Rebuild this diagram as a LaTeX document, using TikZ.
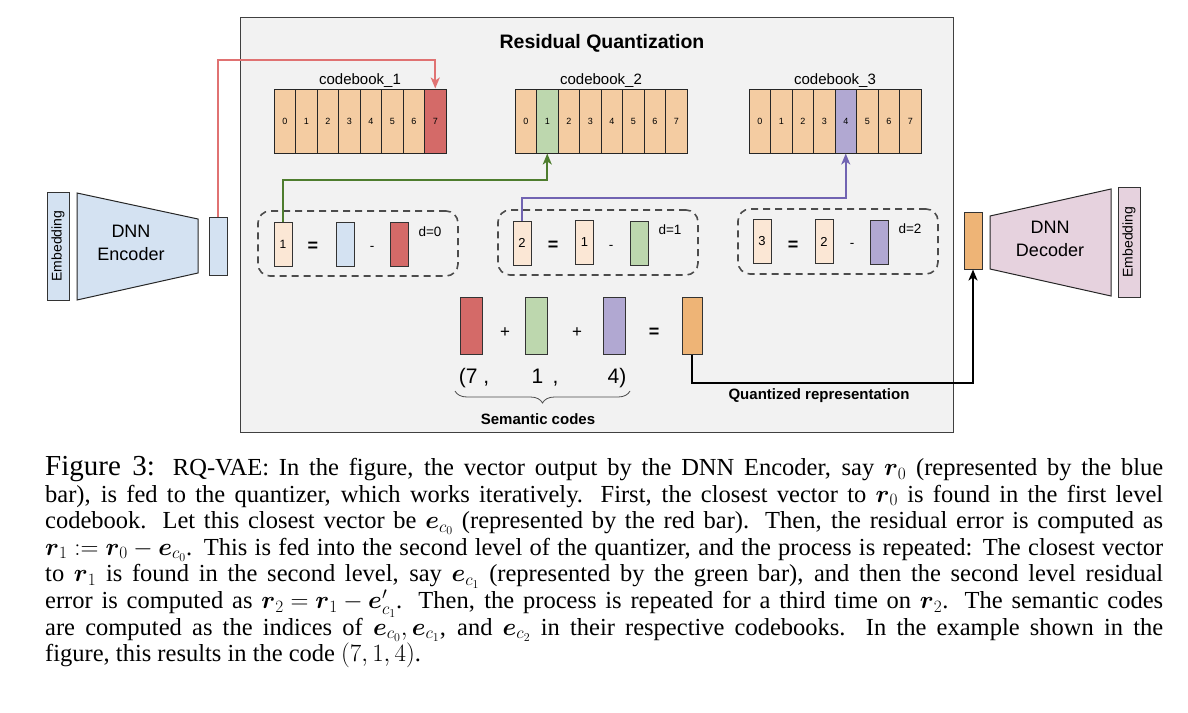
\documentclass[tikz,border=0pt]{standalone}
\usepackage{amsmath}
\usepackage{fontspec}
\setmainfont{Liberation Serif}
\setsansfont{Liberation Sans}
\usetikzlibrary{%
  arrows.meta,%
  decorations.pathreplacing,%
}

\definecolor{panelgray}{HTML}{F2F2F2}
\definecolor{cellorange}{HTML}{F4CCA2}
\definecolor{qred}{HTML}{D46A68}
\definecolor{qgreen}{HTML}{BDD7AE}
\definecolor{qpurple}{HTML}{B1A8D2}
\definecolor{qorange}{HTML}{EEB476}
\definecolor{respeach}{HTML}{FBE7D5}
\definecolor{encblue}{HTML}{D4E2F2}
\definecolor{decpink}{HTML}{E6D2DE}
\definecolor{redline}{HTML}{E07272}
\definecolor{greenline}{HTML}{4E7D2E}
\definecolor{purpleline}{HTML}{7164B2}

\begin{document}
\begin{tikzpicture}[x=1pt, y=-1pt, font=\sffamily,
    >={Stealth[length=11pt, width=9pt, inset=3pt]},
    cell/.style={draw=black!85, line width=1pt, minimum width=21.5pt,
      minimum height=64pt, inner sep=0pt, font=\sffamily\fontsize{9}{10}\selectfont},
    bar/.style={draw=black!80, line width=1pt, minimum width=18pt,
      minimum height=44pt, inner sep=0pt, font=\sffamily\fontsize{13}{14}\selectfont},
    codebar/.style={bar, minimum width=22pt, minimum height=57pt},
    embbar/.style={draw=black!80, line width=1pt, rotate=90, minimum height=22pt,
      inner sep=0pt, font=\sffamily\fontsize{14}{15}\selectfont},
    stepframe/.style={draw=black!70, line width=1.6pt, dash pattern=on 7pt off 5pt,
      rounded corners=12pt, minimum width=200pt, minimum height=65pt},
    sign/.style={font=\sffamily\bfseries\fontsize{18}{18}\selectfont, inner sep=0pt},
    small/.style={font=\sffamily\fontsize{13.5}{14}\selectfont, inner sep=0pt},
    boldlabel/.style={font=\sffamily\bfseries\fontsize{15}{16}\selectfont, inner sep=0pt},
    netname/.style={align=center, font=\sffamily\fontsize{18}{23}\selectfont},
  ]

      \useasboundingbox (0,0) rectangle (1188,712);

      \draw [fill=panelgray, draw=black!75, line width=1pt] (240,17) rectangle (953,432);
      \node (title) [font=\sffamily\bfseries\fontsize{19.5}{20}\selectfont] at (602,43)
        {Residual Quantization};

      \foreach \cb/\x/\hit/\hcol in {1/274/7/qred, 2/515/1/qgreen, 3/749/4/qpurple} {
        \foreach \i in {0,...,7} {
          \ifnum\i=\hit\relax \def\cellfill{\hcol}\else \def\cellfill{cellorange}\fi
          \node (cb\cb-\i) [cell, fill=\cellfill] at ({\x + 10.75 + 21.5*\i}, 121) {\i};
        }
        \node (cb\cb-label) [anchor=south, inner sep=1pt,
          font=\sffamily\fontsize{15}{16}\selectfont] at ({\x + 86}, 89) {codebook\_\cb};
      }

      \draw [fill=encblue, draw=black!85, line width=1pt]
        (77,193) -- (198,219) -- (198,273) -- (77,300) -- cycle;
      \node (enc) [netname] at (131,243) {DNN\\Encoder};
      \node (enc-emb) [embbar, fill=encblue, minimum width=108pt] at (58,246) {Embedding};
      \node (enc-out) [bar, fill=encblue, minimum height=58pt] at (218,246) {};

      \node (step-0) [stepframe] at (358,243.5) {};
      \node (res-1) [bar, fill=respeach, font=\sffamily\fontsize{12}{13}\selectfont]
        at (283,244) {1};
      \node (eq-0) [sign] at (313,247) {=};
      \node (in-0) [bar, fill=encblue] at (345,244) {};
      \node (minus-0) [small] at (372,248) {-};
      \node (q-0) [bar, fill=qred] at (399,244.5) {};
      \node (d-0) [small] at (430,232) {d=0};

      \node (step-1) [stepframe] at (598,242.5) {};
      \node (res-2) [bar, fill=respeach] at (522,243) {2};
      \node (eq-1) [sign] at (553,246) {=};
      \node (in-1) [bar, fill=respeach] at (584.5,242) {1};
      \node (minus-1) [small] at (611,247) {-};
      \node (q-1) [bar, fill=qgreen] at (639,243.5) {};
      \node (d-1) [small] at (670,230) {d=1};

      \node (step-2) [stepframe] at (838,241.5) {};
      \node (res-3) [bar, fill=respeach] at (762,241.5) {3};
      \node (eq-2) [sign] at (793,246) {=};
      \node (in-2) [bar, fill=respeach] at (824,241.5) {2};
      \node (minus-2) [small] at (852,245) {-};
      \node (q-2) [bar, fill=qpurple] at (879,242.5) {};
      \node (d-2) [small] at (910,229) {d=2};

      \draw [->, draw=redline, line width=2pt]
        (enc-out.north) -- ++(0,-157) -| (cb1-7.north);
      \draw [->, draw=greenline, line width=2pt]
        (res-1.north) -- ++(0,-42) -| (cb2-1.south);
      \draw [->, draw=purpleline, line width=2pt]
        (res-2.north) -- ++(0,-23) -| (cb3-4.south);

      \node (code-0) [codebar, fill=qred] at (471,325.5) {};
      \node (plus-0) [sign, font=\sffamily\fontsize{17}{17}\selectfont] at (505,333) {+};
      \node (code-1) [codebar, fill=qgreen] at (536,325.5) {};
      \node (plus-1) [sign, font=\sffamily\fontsize{17}{17}\selectfont] at (577,333) {+};
      \node (code-2) [codebar, fill=qpurple] at (614,325.5) {};
      \node (eq-sum) [sign] at (654,333) {=};
      \node (sum) [codebar, fill=qorange, minimum width=20pt] at (692,325.5) {};

      \node (idx-0) [font=\sffamily\fontsize{21}{22}\selectfont] at (474,378) {(7 ,};
      \node (idx-1) [font=\sffamily\fontsize{21}{22}\selectfont] at (545,378) {1 \,,};
      \node (idx-2) [font=\sffamily\fontsize{21}{22}\selectfont] at (617,378) {4)};
      \draw [draw=black!70, line width=0.8pt,
        decorate, decoration={brace, mirror, amplitude=12pt}] (455,391) -- (630,391);
      \node (sem) [boldlabel] at (538,419) {Semantic codes};

      \node (dec-in) [bar, fill=qorange, minimum height=57pt] at (973,240.5) {};
      \draw [fill=decpink, draw=black!85, line width=1pt]
        (990,216) -- (1111,189) -- (1111,296) -- (990,269) -- cycle;
      \node (dec) [netname] at (1050,239) {DNN\\Decoder};
      \node (dec-emb) [embbar, fill=decpink, minimum width=110pt] at (1129,242) {Embedding};

      \draw [->, line width=2pt] (sum.south) -- ++(0,28) -| (dec-in.south);
      \node (quant) [boldlabel] at (819,396) {Quantized representation};

      \node (caption) [anchor=north west, text width=1118pt, inner sep=0pt, align=justify,
        font=\rmfamily\fontsize{24.5}{26.6}\selectfont] at (45,456)
        {\thickmuskip=5mu\relax \medmuskip=4mu\relax
        {\fontsize{29}{26.6}\selectfont Figure 3:}\hspace{0.1em} RQ-VAE: In the figure, the
        vector output by the DNN Encoder, say $\boldsymbol{r}_0$ (represented by the
        blue\linebreak
        bar), is fed to the quantizer, which works iteratively. First, the closest vector
        to $\boldsymbol{r}_0$ is found in the first level\linebreak
        codebook. Let this closest vector be $\boldsymbol{e}_{c_0}$ (represented by the red
        bar). Then, the residual error is computed as\linebreak
        $\boldsymbol{r}_1 := \boldsymbol{r}_0 - \boldsymbol{e}_{c_0}$. This is fed into the
        second level of the quantizer, and the process is repeated: The closest vector\linebreak
        to $\boldsymbol{r}_1$ is found in the second level, say $\boldsymbol{e}_{c_1}$
        (represented by the green bar), and then the second level residual\linebreak
        error is computed as $\boldsymbol{r}_2 = \boldsymbol{r}_1 - \boldsymbol{e}'_{c_1}$.
        Then, the process is repeated for a third time on $\boldsymbol{r}_2$. The semantic
        codes\linebreak
        are computed as the indices of $\boldsymbol{e}_{c_0}, \boldsymbol{e}_{c_1}$, and
        $\boldsymbol{e}_{c_2}$ in their respective codebooks. In the example shown in
        the\linebreak
        figure, this results in the code $(7, 1, 4)$.};

    \end{tikzpicture}
\end{document}
